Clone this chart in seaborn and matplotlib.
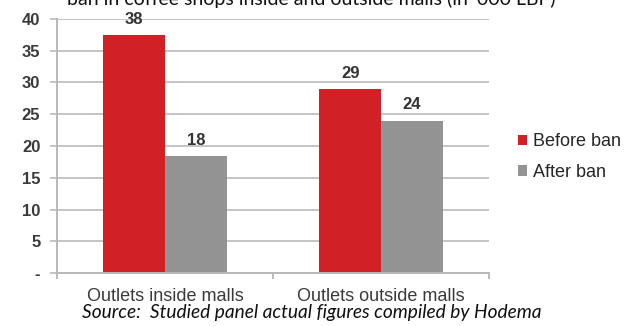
import matplotlib
matplotlib.use("Agg")
import matplotlib.pyplot as plt
import seaborn as sns
import pandas as pd
from matplotlib.patches import Patch

categories = ["Outlets inside malls", "Outlets outside malls"]
series_names = ["Before ban", "After ban"]
before_ban = [37.5, 29.0]
after_ban = [18.4, 24.0]
value_labels_before = ["38", "29"]
value_labels_after = ["18", "24"]
y_ticks = [0, 5, 10, 15, 20, 25, 30, 35, 40]
y_tick_labels = ["-", "5", "10", "15", "20", "25", "30", "35", "40"]
title_text = "ban in coffee shops inside and outside malls (in '000 LBP)"
source_text = "Source:  Studied panel actual figures compiled by Hodema"

colors = ["#D12127", "#939393"]

df = pd.DataFrame({
    "category": categories * 2,
    "series": [series_names[0]] * 2 + [series_names[1]] * 2,
    "value": before_ban + after_ban,
})

sns.set_style("white")
plt.rcParams["font.family"] = ["Liberation Sans", "DejaVu Sans"]

fig = plt.figure(figsize=(6.26, 3.26), dpi=100)
ax = fig.add_axes([57 / 626, 53 / 326, 432 / 626, 254 / 326])

sns.barplot(data=df, x="category", y="value", hue="series", order=categories,
            hue_order=series_names, palette=colors, width=0.57, ax=ax,
            legend=False, saturation=1, linewidth=0)

ax.set_ylim(0, 40)
ax.set_xlim(-0.5, 1.5)
ax.set_yticks(y_ticks)
ax.set_yticklabels(y_tick_labels, fontsize=12, color="#3a3a3a", fontweight="bold")
ax.yaxis.grid(True, color="#c4c4c4", linewidth=1.4)
ax.set_axisbelow(True)
ax.tick_params(axis="y", length=5, width=1.4, color="#c4c4c4", pad=7, left=True)

ax.set_xticks([0, 1])
ax.set_xticklabels(categories, fontsize=13, color="#3a3a3a")
ax.tick_params(axis="x", length=0, pad=11)
ax.set_xticks([-0.5, 0.5, 1.5], minor=True)
ax.tick_params(axis="x", which="minor", length=4, width=1.2, color="#b0b0b0", bottom=True)

for s in ["top", "right"]:
    ax.spines[s].set_visible(False)
for s in ["left", "bottom"]:
    ax.spines[s].set_color("#b8b8b8")
    ax.spines[s].set_linewidth(1.4)
ax.set_xlabel("")
ax.set_ylabel("")

containers = ax.containers
ax.bar_label(containers[0], labels=value_labels_before, padding=6,
             fontsize=12, color="#333333", fontweight="bold")
ax.bar_label(containers[1], labels=value_labels_after, padding=6,
             fontsize=12, color="#333333", fontweight="bold")

handles = [Patch(facecolor=c, edgecolor="none") for c in colors]
fig.legend(handles, series_names, loc="center left",
           bbox_to_anchor=(518 / 626, 1 - 157 / 326), frameon=False,
           handlelength=0.5, handleheight=0.5, borderpad=0, borderaxespad=0,
           handletextpad=0.35, labelspacing=0.75,
           prop={"family": "Liberation Sans", "size": 13})

fig.text(311 / 626, 1 - 5 / 326, title_text, ha="center", va="baseline",
         fontsize=14, family="Lato", color="#111111")
fig.text(312 / 626, 1 - 318 / 326, source_text, ha="center", va="baseline",
         fontsize=13.8, family="Lato", style="italic", color="#111111")

fig.savefig("out.png", dpi=100)
